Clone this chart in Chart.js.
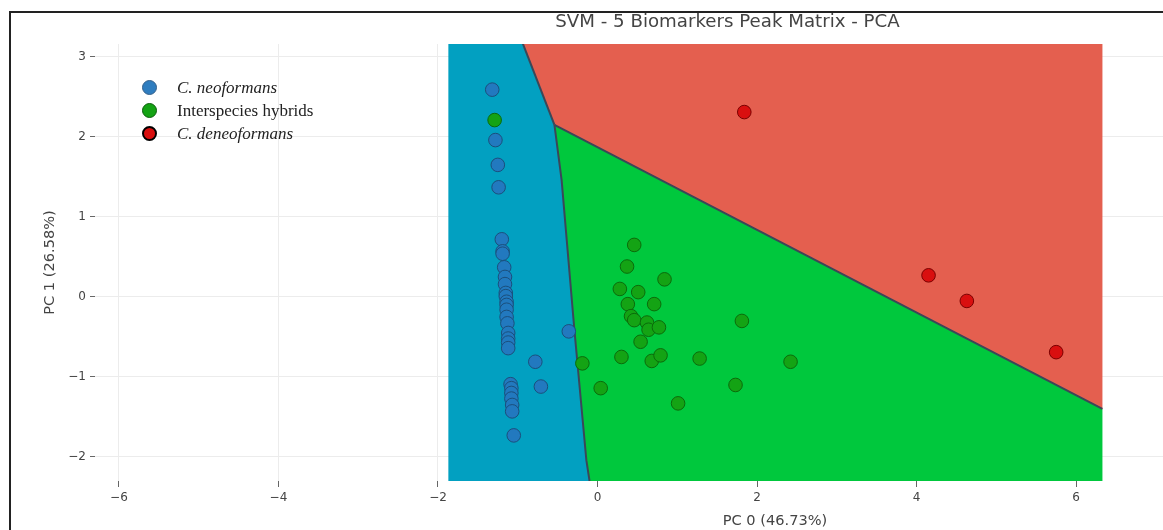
<!DOCTYPE html>
<html>
<head>
<meta charset="utf-8">
<script src="https://cdn.jsdelivr.net/npm/chart.js@4.4.1/dist/chart.umd.min.js"></script>
<style>
  body { margin: 0; background: #fff; overflow: hidden; width: 1163px; height: 530px; }
  #wrap { position: relative; width: 1163px; height: 530px; overflow: hidden; }
  #svm { position: absolute; left: 0; top: 0; }
  #frame { position: absolute; left: 9px; top: 11px; width: 2000px; height: 1000px;
           border-top: 2px solid #222; border-left: 2px solid #222; pointer-events: none; }
  #legend { position: absolute; left: 142px; top: 76px; font-family: "Liberation Serif", "Times New Roman", serif;
            font-size: 17px; color: #222; }
  #legend .row { height: 23px; line-height: 23px; display: flex; align-items: center; }
  #legend .dot { width: 15px; height: 15px; border-radius: 50%; box-sizing: border-box; margin-right: 20px; }
</style>
</head>
<body>
<div id="wrap">
  <canvas id="svm" width="1550" height="530"></canvas>
  <div id="frame"></div>
  <div id="legend"></div>
</div>
<script>
// ---------- data ----------
const categories = ['C. neoformans', 'Interspecies hybrids', 'C. deneoformans'];
const italicNames = [true, false, true];

const neoformans = [
  [-1.32, 2.59], [-1.28, 1.96], [-1.25, 1.65], [-1.24, 1.37],
  [-1.20, 0.72], [-1.19, 0.57], [-1.19, 0.54], [-1.17, 0.37], [-1.16, 0.25],
  [-1.16, 0.16], [-1.15, 0.05], [-1.15, 0.01], [-1.14, -0.06], [-1.14, -0.10],
  [-1.14, -0.16], [-1.14, -0.25], [-1.13, -0.33], [-1.12, -0.45], [-1.12, -0.52],
  [-1.12, -0.57], [-1.12, -0.64],
  [-0.36, -0.43], [-0.78, -0.81], [-0.71, -1.12],
  [-1.09, -1.09], [-1.08, -1.14], [-1.08, -1.20], [-1.08, -1.27], [-1.07, -1.35],
  [-1.07, -1.43], [-1.05, -1.73]
];
const hybrids = [
  [-1.29, 2.21], [0.46, 0.65], [0.37, 0.38], [0.84, 0.22], [0.28, 0.10],
  [0.51, 0.06], [0.38, -0.09], [0.71, -0.09], [0.42, -0.24], [0.46, -0.29],
  [0.62, -0.32], [0.64, -0.41], [0.77, -0.38], [0.54, -0.56], [1.81, -0.30],
  [0.30, -0.75], [0.68, -0.80], [0.79, -0.73], [1.28, -0.77], [2.42, -0.81],
  [-0.19, -0.83], [0.04, -1.14], [1.73, -1.10], [1.01, -1.33]
];
const deneoformans = [[1.84, 2.31], [4.15, 0.27], [4.63, -0.05], [5.75, -0.69]];

// decision regions (polygon vertices in PC units)
const regionNeo = [[-1.87, 3.2], [-0.95, 3.2], [-0.54, 2.15], [-0.45, 1.46], [-0.29, -0.41],
                   [-0.14, -2.04], [-0.10, -2.3], [-1.87, -2.3], [-1.87, 3.2]];
const regionDeneo = [[-0.95, 3.2], [6.33, 3.2], [6.33, -1.40], [-0.54, 2.15], [-0.95, 3.2]];
const regionHybrid = [[-0.54, 2.15], [6.33, -1.40], [6.33, -2.3], [-0.10, -2.3], [-0.14, -2.04],
                      [-0.29, -0.41], [-0.45, 1.46], [-0.54, 2.15]];
const edgeNeoDeneo = [[-0.95, 3.2], [-0.54, 2.15]];
const edgeNeoHybrid = [[-0.54, 2.15], [-0.45, 1.46], [-0.29, -0.41], [-0.14, -2.04], [-0.10, -2.3]];
const edgeHybridDeneo = [[-0.54, 2.15], [6.33, -1.40]];

const xTicks = [-6, -4, -2, 0, 2, 4, 6, 8, 10];
const yTicks = [-2, -1, 0, 1, 2, 3];

// ---------- styles ----------
const pointFill = ['#2279bf', '#14a314', '#d90f0f'];
const pointEdge = ['#1b4f7c', '#0b6b0b', '#7a0000'];
const legendEdge = ['#35608a', '#0b5e0b', '#000'];
const regionFill = ['#02a0c1', '#00c83d', '#e45f4f'];
const sans = '"DejaVu Sans", Verdana, sans-serif';

const xy = arr => arr.map(p => ({x: p[0], y: p[1]}));

function pointSet(data, i) {
  return {
    label: categories[i], data: xy(data), order: 0,
    pointRadius: 6.8, pointBackgroundColor: pointFill[i],
    pointBorderColor: pointEdge[i], pointBorderWidth: 1, showLine: false
  };
}
function regionSet(data, color) {
  return {
    data: xy(data), order: 2, showLine: true, fill: 'shape',
    backgroundColor: color, borderWidth: 0, pointRadius: 0, tension: 0
  };
}
function edgeSet(data) {
  return {
    data: xy(data), order: 1, showLine: true, fill: false,
    borderColor: '#3b4758', borderWidth: 2, pointRadius: 0, tension: 0
  };
}

const tickFont = {family: sans, size: 12};
const minus = v => (v < 0 ? '\u2212' + Math.abs(v) : String(v));

new Chart(document.getElementById('svm'), {
  type: 'scatter',
  data: {
    datasets: [
      pointSet(neoformans, 0), pointSet(hybrids, 1), pointSet(deneoformans, 2),
      edgeSet(edgeNeoDeneo), edgeSet(edgeNeoHybrid), edgeSet(edgeHybridDeneo),
      regionSet(regionNeo, regionFill[0]), regionSet(regionHybrid, regionFill[1]),
      regionSet(regionDeneo, regionFill[2])
    ]
  },
  options: {
    responsive: false,
    animation: false,
    layout: {padding: {top: 0, left: 0, right: 95, bottom: 0}},
    plugins: {
      legend: {display: false},
      tooltip: {enabled: false},
      title: {
        display: true,
        text: 'SVM - 5 Biomarkers Peak Matrix - PCA',
        color: '#444',
        font: {family: sans, size: 18.2, weight: 'normal', lineHeight: 1.2},
        padding: {top: 11, bottom: 11.2}
      }
    },
    scales: {
      x: {
        type: 'linear', min: -6.3, max: 10.75,
        afterBuildTicks: s => { s.ticks = xTicks.map(v => ({value: v})); },
        afterFit: s => { s.height = 49; },
        grid: {color: '#ececec', tickColor: '#666', tickLength: 6},
        border: {display: false},
        ticks: {color: '#444', font: tickFont, padding: 4, callback: minus},
        title: {display: true, text: 'PC 0 (46.73%)', color: '#444',
                font: {family: sans, size: 14.6}, padding: 0}
      },
      y: {
        type: 'linear', min: -2.3, max: 3.16,
        afterBuildTicks: s => { s.ticks = yTicks.map(v => ({value: v})); },
        afterFit: s => { s.width = 95; },
        grid: {color: '#ececec', tickColor: '#666', tickLength: 5},
        border: {display: false},
        ticks: {color: '#444', font: tickFont, padding: 4, callback: minus},
        title: {display: true, text: 'PC 1 (26.58%)', color: '#444',
                font: {family: sans, size: 14.6}, padding: {top: 41}}
      }
    }
  }
});

// ---------- legend ----------
const legend = document.getElementById('legend');
categories.forEach((name, i) => {
  const row = document.createElement('div');
  row.className = 'row';
  const dot = document.createElement('span');
  dot.className = 'dot';
  dot.style.background = i === 0 ? '#2f7dbf' : pointFill[i];
  dot.style.border = (i === 2 ? 2.5 : 1.5) + 'px solid ' + legendEdge[i];
  const txt = document.createElement('span');
  txt.textContent = name;
  if (italicNames[i]) txt.style.fontStyle = 'italic';
  row.appendChild(dot);
  row.appendChild(txt);
  legend.appendChild(row);
});
</script>
</body>
</html>
